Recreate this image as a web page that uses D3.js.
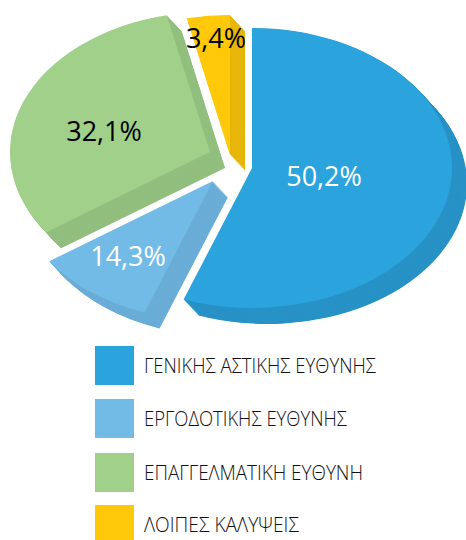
<!DOCTYPE html>
<html><head><meta charset="utf-8">
<script src="https://cdn.jsdelivr.net/npm/d3@7/dist/d3.min.js"></script>
<style>html,body{margin:0;padding:0;background:#fff;overflow:hidden}svg{display:block}
text{font-family:"Open Sans","Noto Sans",sans-serif}</style></head>
<body><div id="chart"></div>
<script>
const categories = ["ΓΕΝΙΚΗΣ ΑΣΤΙΚΗΣ ΕΥΘΥΝΗΣ","ΕΡΓΟΔΟΤΙΚΗΣ ΕΥΘΥΝΗΣ","ΕΠΑΓΓΕΛΜΑΤΙΚΗ ΕΥΘΥΝΗ","ΛΟΙΠΕΣ ΚΑΛΥΨΕΙΣ"];
const shares = [50.2,14.3,32.1,3.4];
const valueLabels = ["50,2%","14,3%","32,1%","3,4%"];
const topColors = ["#2ba3dd","#73bbe7","#a0d08a","#ffc90a"];
const sideColors = ["#2892c6","#6aadd7","#92bf7f","#e6b60a"];
const labelColors = ["#ffffff","#ffffff","#000000","#000000"];
const apexes = [[252,168],[213,181],[210,152],[230,155]];
const labelPos = [[324,186],[128,266],[104,141],[216,48]];
const legendY = [346,399,453,505];
const legendWidths = [232,203,219,155];

const W=466,H=540,RX=200,TILT=0.7,DX=15,DY=16,STEPS=32;
const svg=d3.select("#chart").append("svg").attr("width",W).attr("height",H);

// The original's perspective stretches the slice sweep: cumulative share -> drawn angle.
const warp=d3.scaleLinear().domain([0,50.2,64.5,96.6,100]).range([0,200,235,347.5,360].map(d=>d*Math.PI/180));
const arcs=d3.pie().sort(null).value(d=>d)(shares).map(a=>({
  ...a,
  startAngle:warp(a.startAngle/(2*Math.PI)*100),
  endAngle:warp(a.endAngle/(2*Math.PI)*100)
}));
const arc=d3.arc().innerRadius(0).outerRadius(RX);

const slices=svg.selectAll("g.slice").data(arcs).join("g").attr("class","slice");
slices.each(function(d,i){
  const g=d3.select(this),[cx,cy]=apexes[i];
  d3.range(STEPS,0,-1).forEach(s=>{
    g.append("path").attr("d",arc(d)).attr("fill",sideColors[i])
     .attr("transform",`translate(${cx+DX*s/STEPS},${cy+DY*s/STEPS}) scale(1,${TILT})`);
  });
  g.append("path").attr("d",arc(d)).attr("fill",topColors[i])
   .attr("transform",`translate(${cx},${cy}) scale(1,${TILT})`);
});

svg.selectAll("text.value").data(valueLabels).join("text").attr("class","value")
  .attr("x",(d,i)=>labelPos[i][0]).attr("y",(d,i)=>labelPos[i][1])
  .attr("text-anchor","middle").attr("font-size",27).attr("fill",(d,i)=>labelColors[i]).text(d=>d);

const leg=svg.selectAll("g.legend").data(categories).join("g").attr("class","legend");
leg.append("rect").attr("x",95).attr("y",(d,i)=>legendY[i]).attr("width",39).attr("height",39).attr("fill",(d,i)=>topColors[i]);
leg.append("text").attr("x",144).attr("y",(d,i)=>legendY[i]+26.5).attr("font-size",20.5).attr("font-weight",300).attr("fill","#111")
  .attr("textLength",(d,i)=>legendWidths[i]).attr("lengthAdjust","spacingAndGlyphs").text(d=>d);
</script></body></html>
